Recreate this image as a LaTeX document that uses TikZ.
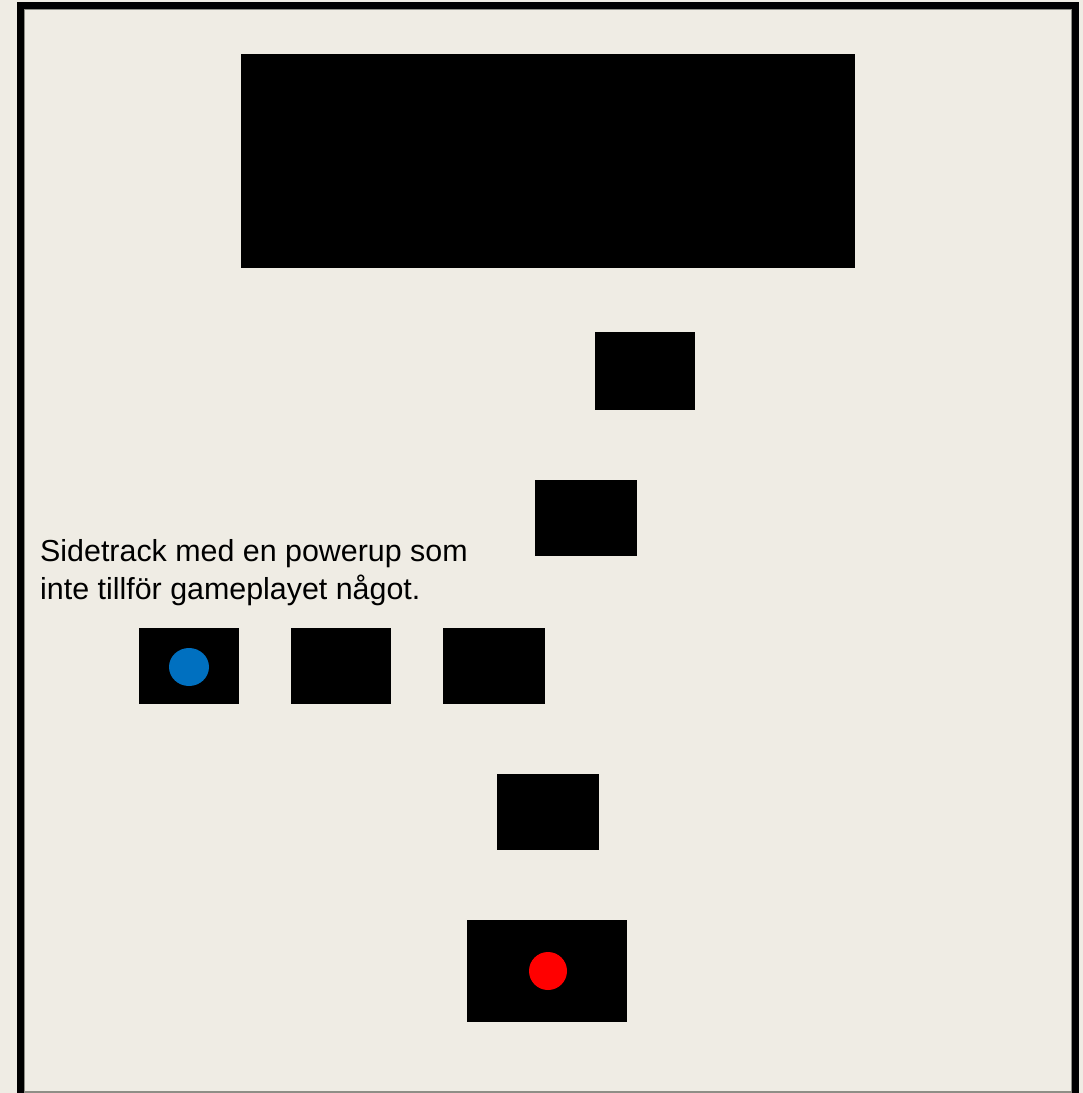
\documentclass[tikz,border=0pt]{standalone}
\usepackage{fontspec}
\setmainfont{Liberation Sans}
\definecolor{bgc}{HTML}{EFECE4}
\definecolor{edgegray}{HTML}{8E8E86}
\definecolor{dotblue}{HTML}{0070C0}
\definecolor{dotred}{HTML}{FF0000}
\begin{document}
\begin{tikzpicture}[x=1pt,y=-1pt,
  blk/.style={fill=black,draw=none},
  lbl/.style={font=\fontsize{30.4}{38}\selectfont,align=left,inner sep=0pt,text=black}]
\useasboundingbox (0,0) rectangle (1083,1093);
\fill[bgc] (0,0) rectangle (1083,1093);
% frame
\draw[edgegray,line width=1pt] (24.5,1093) -- (24.5,9.5) -- (1071.5,9.5) -- (1071.5,1093);
\draw[edgegray,line width=1.2pt] (24,1092) -- (1072,1092);
\draw[black,line width=7pt] (20.5,1093) -- (20.5,5.5) -- (1075,5.5) -- (1075,1093);
% blocks
\fill[blk] (241,54) rectangle (855,268);
\fill[blk] (595,332) rectangle (695,410);
\fill[blk] (535,480) rectangle (637,556);
\fill[blk] (139,628) rectangle (239,704);
\fill[blk] (291,628) rectangle (391,704);
\fill[blk] (443,628) rectangle (545,704);
\fill[blk] (497,774) rectangle (599,850);
\fill[blk] (467,920) rectangle (627,1022);
% dots
\fill[dotblue] (189,667) ellipse [x radius=20, y radius=19];
\fill[dotred] (548,971) circle [radius=19];
% text
\node[lbl,anchor=north west] (note) at (40,539) {Sidetrack med en powerup som\\inte tillför gameplayet något.};
\end{tikzpicture}
\end{document}
